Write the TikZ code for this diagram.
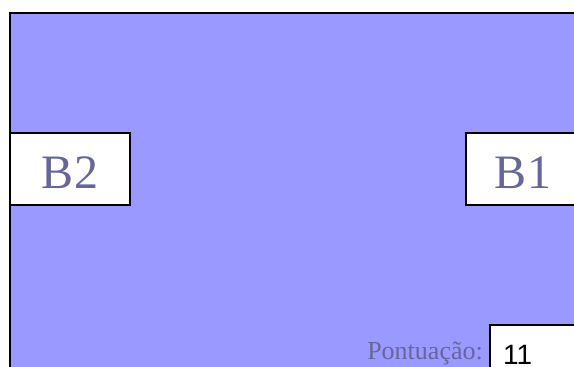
\documentclass[tikz,border=0pt]{standalone}
\usepackage{fontspec}
\setmainfont{Liberation Serif}
\newfontfamily\arialf{Liberation Sans}
\definecolor{bgblue}{HTML}{9999FF}
\definecolor{txtblue}{HTML}{666699}
\begin{document}
\begin{tikzpicture}[x=1pt,y=1pt,
  whitebox/.style={draw=black,line width=1.5pt,fill=white}]
\useasboundingbox (0,0) rectangle (574,367);
\begin{scope}
\clip (0,0) rectangle (574,367);
\filldraw[fill=bgblue,draw=black,line width=2pt] (10,-10) rectangle (590,354);
\filldraw[whitebox] (10,162) rectangle (130,234);
\filldraw[whitebox] (466,162) rectangle (590,234);
\filldraw[whitebox] (490,-10) rectangle (590,42);
\end{scope}
\node[anchor=base,text=txtblue,font=\fontsize{48}{54}\selectfont,inner sep=0] (b2) at (70,178) {B2};
\node[anchor=base,text=txtblue,font=\fontsize{48}{54}\selectfont,inner sep=0] (b1) at (523,178) {B1};
\node[anchor=base east,text=txtblue,font=\fontsize{26}{30}\selectfont,inner sep=0] (pont) at (483,7) {Pontuação:};
\node[anchor=base west,text=black,font=\arialf\fontsize{28}{32}\selectfont,inner sep=0] (pts) at (503,2) {11};
\end{tikzpicture}
\end{document}
